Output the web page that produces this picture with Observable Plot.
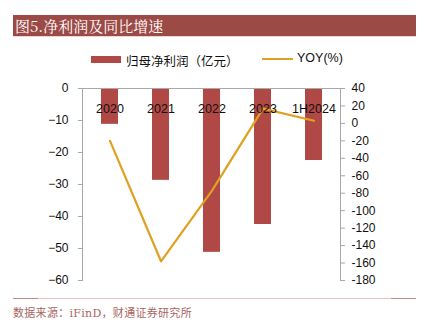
<!DOCTYPE html>
<html><head><meta charset="utf-8">
<script src="https://cdn.jsdelivr.net/npm/d3@7"></script>
<script src="https://cdn.jsdelivr.net/npm/@observablehq/plot@0.6"></script>
<style>
body{margin:0;width:430px;height:332px;background:#fff;position:relative;font-family:"Liberation Sans",Arial,"Noto Sans CJK SC",sans-serif;overflow:hidden}
#title{position:absolute;left:13px;top:15px;width:403px;height:21px;background:#9c4a46;color:#fff;font-family:"Noto Serif CJK SC","DejaVu Serif",serif;font-size:15px;line-height:21px;padding-left:2px;box-sizing:border-box}
#tline{position:absolute;left:13px;top:36px;width:403px;height:1px;background:#ecd6d4}
#legend{position:absolute;top:51px;left:0;width:430px;height:18px;font-size:12.5px;color:#111}
.sw{position:absolute}
#chart{position:absolute;left:0;top:80px}
#fline{position:absolute;left:13px;top:298px;width:403px;height:1px;background:#e2c4c2}
.fend{position:absolute;top:298px;height:1px;background:#c08a88}
#foot{position:absolute;left:13px;top:304px;font-size:11px;color:#a86462;font-family:"DejaVu Serif","Noto Sans CJK SC",serif;letter-spacing:0.3px}
</style></head><body>
<div id="title">图5.净利润及同比增速</div>
<div id="tline"></div>
<div id="legend">
  <div class="sw" style="left:91px;top:5px;width:30px;height:7px;background:#b04846"></div>
  <div class="sw" style="left:126px;top:0px;">归母净利润（亿元）</div>
  <div class="sw" style="left:262px;top:7px;width:31px;height:2px;background:#e0a020"></div>
  <div class="sw" style="left:297px;top:0px;">YOY(%)</div>
</div>
<div id="chart"></div>
<div id="fline"></div>
<div class="fend" style="left:13px;width:25px"></div>
<div class="fend" style="left:391px;width:25px"></div>
<div id="foot">数据来源：iFinD，财通证券研究所</div>
<script>
const years = ["2020","2021","2022","2023","1H2024"];
const profit = [-11.2, -28.7, -51.2, -42.5, -22.5];
const yoy = [-20, -158, -77, 17, 3];
const leftTicks = [0,-10,-20,-30,-40,-50,-60];
const rightTicks = [40,20,0,-20,-40,-60,-80,-100,-120,-140,-160,-180];

// map right-axis (YOY) values onto the left scale: [-180,40] -> [-60,0]
const toLeft = v => (v - 40) * 60 / 220;
const fromLeft = v => Math.round(v * 220 / 60 + 40);

const barData = years.map((y,i)=>({year:y, v:profit[i]}));
const lineData = years.map((y,i)=>({year:y, v:toLeft(yoy[i])}));

const chart = Plot.plot({
  width: 430, height: 210,
  marginLeft: 82, marginRight: 90, marginTop: 8, marginBottom: 10,
  style: {fontFamily: "Liberation Sans, Arial, sans-serif", fontSize: "12px", color: "#111", background: "transparent"},
  x: {domain: years, padding: 0, axis: null},
  y: {domain: [-60, 0], axis: null},
  marks: [
    Plot.barY(barData, {x: "year", y: "v", fill: "#b04846", insetLeft: 17, insetRight: 17}),
    Plot.frame({anchor: "left", stroke: "#a8a8a8"}),
    Plot.frame({anchor: "right", stroke: "#a8a8a8"}),
    Plot.frame({anchor: "top", stroke: "#a8a8a8"}),
    Plot.axisY({anchor: "left", label: null, ticks: leftTicks, tickSize: 4, tickPadding: 10, stroke: "#a8a8a8", fill: "#111", fontSize: 12}),
    Plot.axisY({anchor: "right", label: null, ticks: rightTicks.map(toLeft), tickFormat: fromLeft, tickSize: 4, tickPadding: 7, stroke: "#a8a8a8", fill: "#111", fontSize: 12}),
    Plot.line(lineData, {x: "year", y: "v", stroke: "#e0a020", strokeWidth: 2.2}),
    Plot.text(years, {x: d => d, frameAnchor: "top", dy: 16, fill: "#111", fontSize: 12.5})
  ]
});
document.getElementById("chart").appendChild(chart);
</script>
</body></html>
